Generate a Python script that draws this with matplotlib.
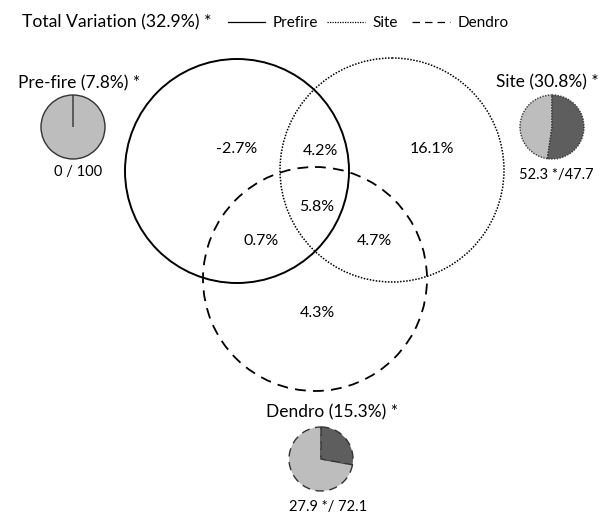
import numpy as np
import matplotlib.pyplot as plt
from matplotlib.patches import Circle
from matplotlib.lines import Line2D

plt.rcParams['font.family'] = ['Lato', 'DejaVu Sans']

# data
total_label = 'Total Variation (32.9%) *'
circle_names = ['Prefire', 'Site', 'Dendro']
region_labels = ['-2.7%', '4.2%', '16.1%', '5.8%', '0.7%', '4.7%', '4.3%']
pie_titles = ['Pre-fire (7.8%) *', 'Site (30.8%) *', 'Dendro (15.3%) *']
pie_sig = [0, 52.3, 27.9]
pie_nonsig = [100, 47.7, 72.1]
pie_labels = ['0 / 100', '52.3 */47.7', '27.9 */ 72.1']

# layout (pixel coords, y downwards)
circ_xy = [(237, 171), (392, 170), (315, 279)]
circ_r = 112
styles = ['-', (0, (1, 1)), (0, (6, 4))]
widths = [1.4, 1.1, 1.3]
region_xy = [(237, 149), (320, 151), (432, 149), (317, 207), (261, 241), (374, 241), (317, 313)]
pie_xy = [(73, 127), (552, 127), (321, 459)]
pie_title_xy = [(79, 83), (547, 82), (332, 412)]
pie_label_xy = [(78, 172), (556, 175), (328, 507)]
light = '#bdbdbd'
dark = '#5e5e5e'

fig = plt.figure(figsize=(6.13, 5.2), dpi=100)
ax = fig.add_axes([0, 0, 1, 1])

for (cx, cy), ls, lw in zip(circ_xy, styles, widths):
    ax.add_patch(Circle((cx, cy), circ_r, fill=False, ec='black', ls=ls, lw=lw))

for txt, (x, y) in zip(region_labels, region_xy):
    ax.text(x, y, txt, ha='center', va='center', fontsize=11.5)

for i in range(3):
    wedges, _ = ax.pie([pie_sig[i], pie_nonsig[i]], center=pie_xy[i], radius=32,
                       colors=[dark, light], startangle=-90, counterclock=True,
                       wedgeprops=dict(ec='#333333', lw=1, ls=styles[i]))
    wedges[0].set_zorder(3)  # keep the (possibly empty) sig wedge edge visible
    ax.text(*pie_title_xy[i], pie_titles[i], ha='center', va='center', fontsize=12.5)
    ax.text(*pie_label_xy[i], pie_labels[i], ha='center', va='center', fontsize=10.5)

ax.text(22, 22, total_label, ha='left', va='center', fontsize=12.7)

# legend drawn by hand along the top
leg_line_x = [(228, 265), (327, 365), (412, 450)]
leg_text_x = [273, 372, 458]
for (x0, x1), tx, name, ls in zip(leg_line_x, leg_text_x, circle_names, styles):
    ax.add_line(Line2D([x0, x1], [22, 22], color='black', ls=ls, lw=0.9))
    ax.text(tx, 23, name, ha='left', va='center', fontsize=11)

ax.set_xlim(0, 613)
ax.set_ylim(520, 0)
ax.set_aspect('equal')
ax.axis('off')

fig.savefig('out.png', dpi=100, facecolor='white')
